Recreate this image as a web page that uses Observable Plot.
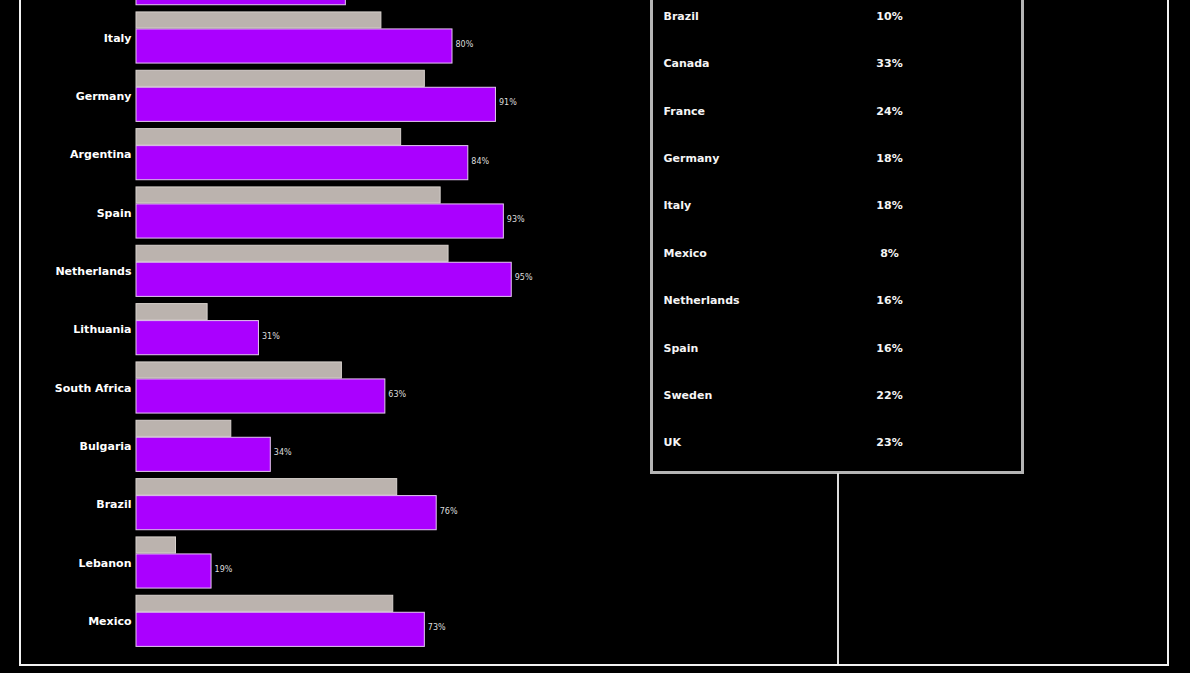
<!DOCTYPE html>
<html>
<head>
<meta charset="utf-8">
<script src="https://cdn.jsdelivr.net/npm/d3@7"></script>
<script src="https://cdn.jsdelivr.net/npm/@observablehq/plot@0.6"></script>
<style>
  html, body { margin: 0; padding: 0; background: #000; }
  #root { position: relative; width: 1190px; height: 673px; background: #000; overflow: hidden; font-family: "DejaVu Sans", sans-serif; }
  .frame { position: absolute; box-sizing: border-box; }
  #outer { left: 19px; top: -10px; width: 1150px; height: 676px; border: 2px solid #f2f2f2; }
  #tablebox { left: 650px; top: -10px; width: 374px; height: 484px; border: 3px solid #b5b5b5; }
  #stem { left: 837px; top: 473px; width: 2px; height: 191px; background: #dcdcdc; }
  #bars { position: absolute; left: 0; top: -50px; }
  #table { position: absolute; left: 651px; top: -8px; }
</style>
</head>
<body>
<div id="root">
  <div class="frame" id="outer"></div>
  <div class="frame" id="tablebox"></div>
  <div class="frame" id="stem"></div>
  <div id="bars"></div>
  <div id="table"></div>
</div>
<script>
// Bar chart data (top row is cut off in the view)
const countries = ["Other", "Italy", "Germany", "Argentina", "Spain", "Netherlands", "Lithuania", "South Africa", "Bulgaria", "Brazil", "Lebanon", "Mexico"];
const currentValues = [53, 80, 91, 84, 93, 95, 31, 63, 34, 76, 19, 73];
const previousValues = [45, 62, 73, 67, 77, 79, 18, 52, 24, 66, 10, 65];

// Table data
const tableCountries = ["Brazil", "Canada", "France", "Germany", "Italy", "Mexico", "Netherlands", "Spain", "Sweden", "UK"];
const tableValues = [10, 33, 24, 18, 18, 8, 16, 16, 22, 23];

const bars = countries.map((c, i) => ({country: c, current: currentValues[i], previous: previousValues[i]}));
const table = tableCountries.map((c, i) => ({country: c, value: tableValues[i]}));

const barChart = Plot.plot({
  width: 620,
  height: 700,
  marginLeft: 136,
  marginRight: 89,
  marginTop: 0,
  marginBottom: 0,
  style: {background: "transparent", color: "#ffffff", fontFamily: "DejaVu Sans, sans-serif", fontSize: "11px", fontWeight: "bold"},
  x: {domain: [0, 100], axis: null},
  y: {domain: countries, padding: 0, round: false, tickSize: 0, tickPadding: 5, label: null},
  marks: [
    Plot.barX(bars, {x: "previous", y: "country", fill: "#bbb3ae", stroke: "#d8d1cd", strokeWidth: 1, insetTop: 3.6, insetBottom: 38.6}),
    Plot.barX(bars, {x: "current", y: "country", fill: "#aa00ff", stroke: "#e6c6f2", strokeWidth: 1, insetTop: 20.6, insetBottom: 3.6}),
    Plot.text(bars, {x: "current", y: "country", text: d => d.current + "%", textAnchor: "start", dx: 3, dy: 6.5, fill: "#dddddd", fontSize: 8, fontWeight: "normal"})
  ]
});
document.getElementById("bars").appendChild(barChart);

const tableChart = Plot.plot({
  width: 372,
  height: 474,
  margin: 0,
  style: {background: "transparent", color: "#ffffff", fontFamily: "DejaVu Sans, sans-serif", fontSize: "11px", fontWeight: "bold"},
  y: {type: "point", domain: tableCountries, padding: 0.5, round: false, axis: null},
  marks: [
    Plot.text(table, {y: "country", text: "country", frameAnchor: "left", textAnchor: "start", dx: 12, fill: "#f5f5f5", fontSize: 11, fontWeight: "bold"}),
    Plot.text(table, {y: "country", text: d => d.value + "%", frameAnchor: "left", textAnchor: "middle", dx: 238, fill: "#f5f5f5", fontSize: 11, fontWeight: "bold"})
  ]
});
document.getElementById("table").appendChild(tableChart);
</script>
</body>
</html>
